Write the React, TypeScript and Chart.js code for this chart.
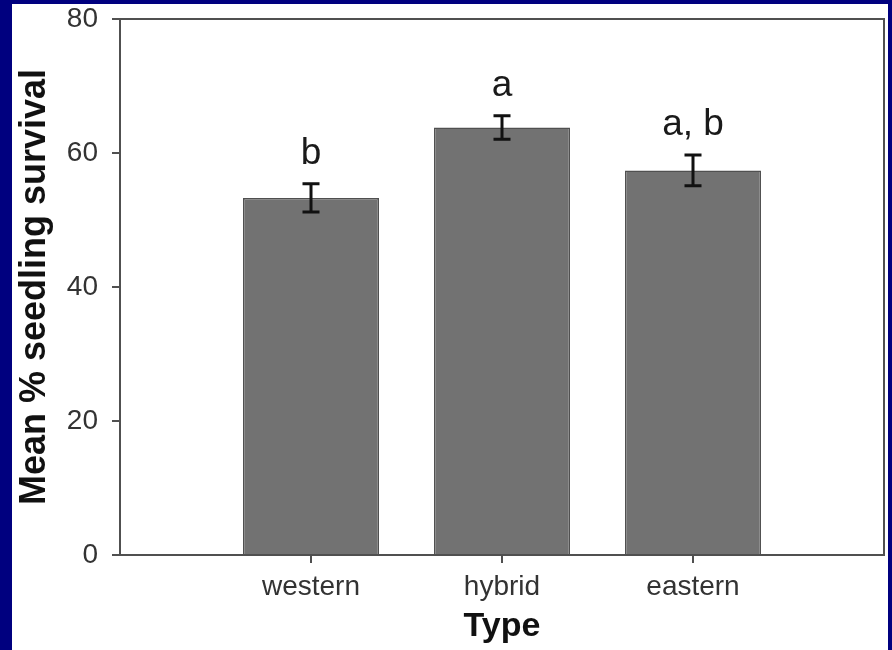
import React, { useEffect, useRef } from 'react';
import { Chart, registerables } from 'chart.js';

Chart.register(...registerables);

const categories = ['western', 'hybrid', 'eastern'];
const positions = [1, 2, 3];
const means = [53.3, 63.8, 57.4];
const errors = [2.1, 1.75, 2.3];
const letters = ['b', 'a', 'a, b'];
const yTitle = 'Mean % seedling survival';
const xTitle = 'Type';

const FONT = '"Liberation Sans", Arial, Helvetica, sans-serif';

export default function App() {
  const ref = useRef<HTMLCanvasElement>(null);

  useEffect(() => {
    if (!ref.current) return;

    const background = {
      id: 'background',
      beforeDraw(chart: any) {
        const { ctx, width, height } = chart;
        ctx.save();
        ctx.fillStyle = '#00007f';
        ctx.fillRect(0, 0, width, height);
        ctx.fillStyle = '#ffffff';
        ctx.fillRect(12, 4, 876, height - 4);
        ctx.restore();
      },
    };

    const decorations = {
      id: 'decorations',
      afterDatasetsDraw(chart: any) {
        const { ctx, chartArea } = chart;
        const yScale = chart.scales.y;
        const meta = chart.getDatasetMeta(0);
        ctx.save();
        ctx.strokeStyle = '#505050';
        ctx.lineWidth = 2;
        ctx.strokeRect(chartArea.left, chartArea.top, chartArea.right - chartArea.left, chartArea.bottom - chartArea.top);
        means.forEach((m, i) => {
          const bar = meta.data[i];
          if (!bar) return;
          const x = bar.x;
          const top = yScale.getPixelForValue(m + errors[i]);
          const bot = yScale.getPixelForValue(m - errors[i]);
          ctx.strokeStyle = '#111111';
          ctx.lineWidth = 3;
          ctx.beginPath();
          ctx.moveTo(x, top);
          ctx.lineTo(x, bot);
          ctx.moveTo(x - 8.5, top);
          ctx.lineTo(x + 8.5, top);
          ctx.moveTo(x - 8.5, bot);
          ctx.lineTo(x + 8.5, bot);
          ctx.stroke();
          ctx.fillStyle = '#1a1a1a';
          ctx.font = `37px ${FONT}`;
          ctx.textAlign = 'center';
          ctx.textBaseline = 'alphabetic';
          ctx.fillText(letters[i], x, top - 20);
        });
        ctx.restore();
      },
    };

    const chart = new Chart(ref.current, {
      type: 'bar',
      data: {
        datasets: [
          {
            data: positions.map((p, i) => ({ x: p, y: means[i] })),
            backgroundColor: '#727272',
            borderColor: '#505050',
            borderWidth: 1.5,
            categoryPercentage: 1,
            barPercentage: 0.712,
          },
        ],
      },
      options: {
        responsive: false,
        animation: false,
        devicePixelRatio: 1,
        layout: { padding: { left: 0, top: 19, right: 8, bottom: 0 } },
        plugins: {
          legend: { display: false },
          tooltip: { enabled: false },
        },
        scales: {
          x: {
            type: 'linear',
            min: 0,
            max: 4,
            offset: false,
            afterBuildTicks(axis: any) {
              axis.ticks = positions.map((p) => ({ value: p }));
            },
            afterFit(axis: any) {
              axis.height = 95;
            },
            ticks: {
              stepSize: 1,
              padding: 7,
              color: '#333333',
              font: { family: FONT, size: 28 },
              callback: (v: any) => {
                const idx = positions.indexOf(Number(v));
                return idx >= 0 ? categories[idx] : '';
              },
            },
            grid: {
              offset: false,
              drawOnChartArea: false,
              drawTicks: true,
              tickLength: 8,
              color: '#505050',
              lineWidth: 2,
            },
            border: { display: false },
            title: {
              display: true,
              text: xTitle,
              color: '#111111',
              font: { family: FONT, size: 34, weight: 'bold' },
              padding: { top: 0, bottom: 3 },
            },
          },
          y: {
            min: 0,
            max: 80,
            afterFit(axis: any) {
              axis.width = 120;
              axis.paddingTop = 10;
              axis.paddingBottom = 10;
            },
            ticks: {
              stepSize: 20,
              padding: 14,
              color: '#333333',
              font: { family: FONT, size: 28 },
            },
            grid: {
              drawOnChartArea: false,
              drawTicks: true,
              tickLength: 8,
              color: '#505050',
              lineWidth: 2,
            },
            border: { display: false },
            title: {
              display: true,
              text: yTitle,
              color: '#111111',
              font: { family: FONT, size: 36, weight: 'bold' },
              padding: { top: 13, bottom: 0 },
            },
          },
        },
      },
      plugins: [background, decorations],
    } as any);

    return () => chart.destroy();
  }, []);

  return (
    <div style={{ position: 'fixed', left: 0, top: 0, width: 892, height: 650 }}>
      <canvas ref={ref} width={892} height={650} style={{ display: 'block', width: 892, height: 650 }} />
    </div>
  );
}
